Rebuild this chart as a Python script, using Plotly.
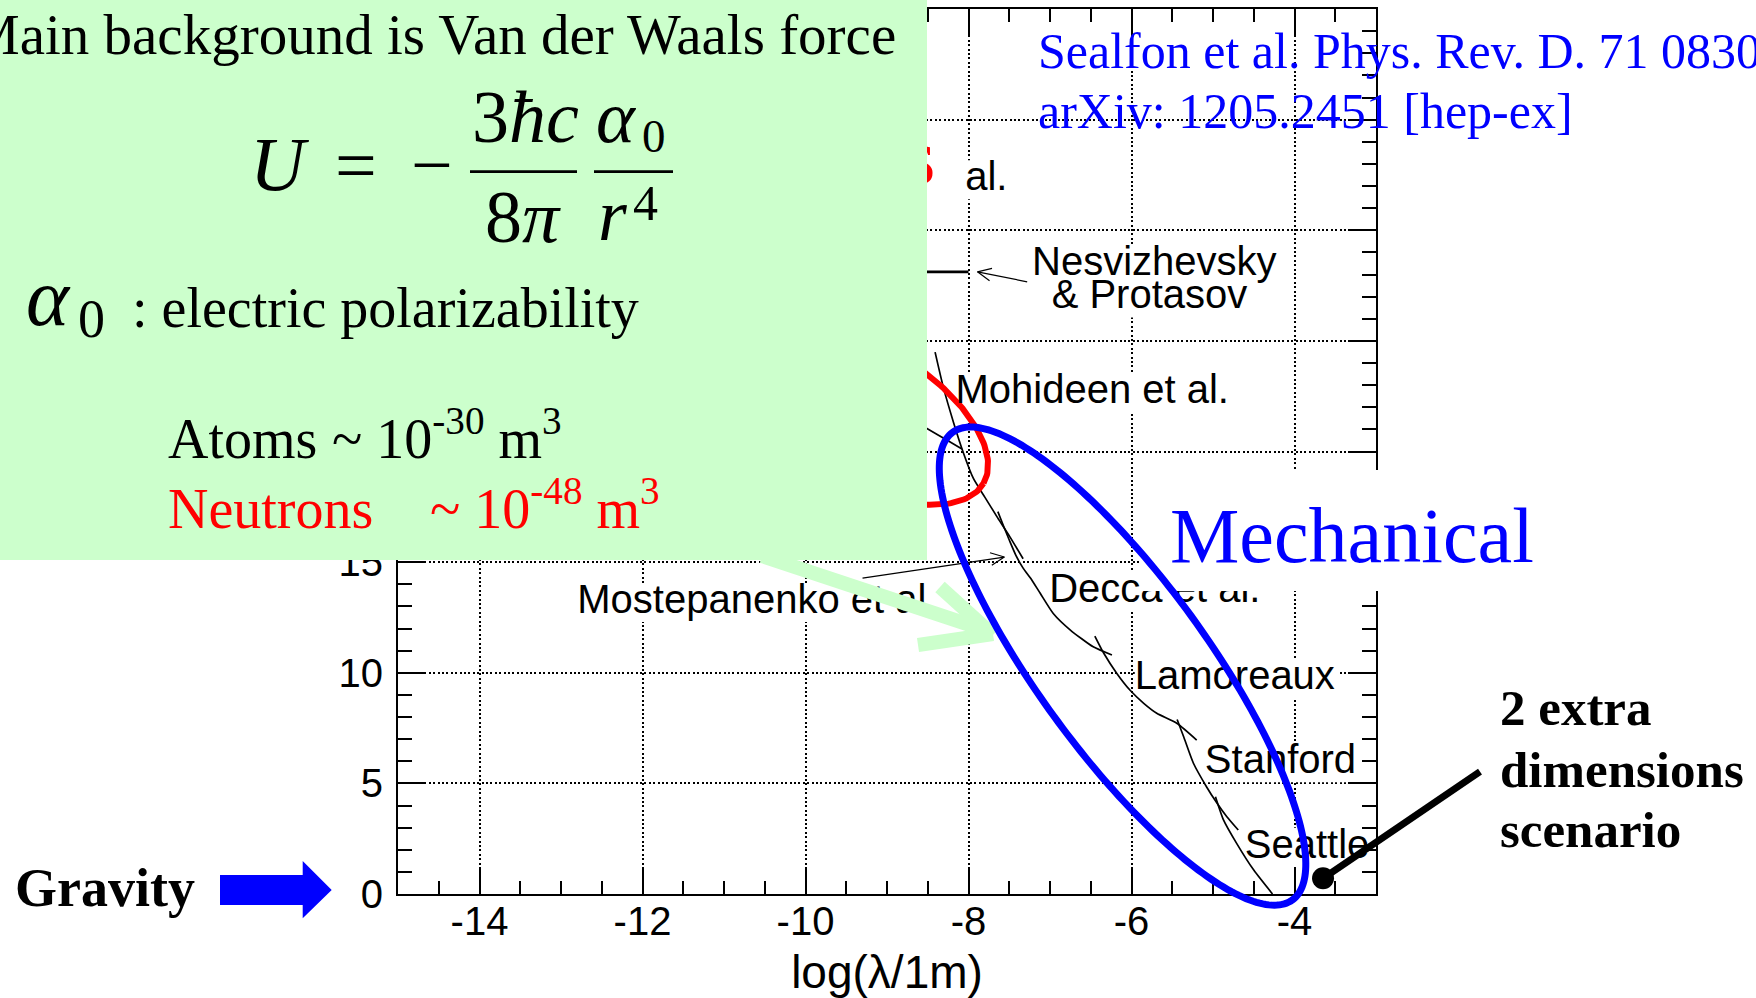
import numpy as np
import plotly.graph_objects as go

# ---------------------------------------------------------------- data
X_RANGE = [-15, -3]
Y_RANGE = [0, 40]
X_TICKS = [-14, -12, -10, -8, -6, -4]
X_TICK_TEXT = ["-14", "-12", "-10", "-8", "-6", "-4"]
Y_TICKS = [0, 5, 10, 15, 20, 25, 30, 35, 40]
Y_TICK_TEXT = ["0", "5", "10", "15", "20", "25", "30", "35", "40"]

# experimental limit curves: log(lambda/1m) vs log(alpha)
mohideen_x = [-8.41, -8.31, -8.18, -8.06, -7.94, -7.80, -7.64, -7.49, -7.33]
mohideen_y = [24.49, 22.92, 21.27, 19.91, 18.78, 17.94, 16.99, 16.13, 15.15]
mostep_x = [-8.84, -8.51, -8.23, -8.08]
mostep_y = [21.74, 21.04, 20.44, 20.11]
decca_x = [-7.64, -7.57, -7.50, -7.42, -7.33, -7.24, -7.12, -6.96, -6.75, -6.47, -6.24]
decca_y = [17.28, 16.63, 16.00, 15.32, 14.73, 14.28, 13.59, 12.68, 11.93, 11.17, 10.80]
lamoreaux_x = [-6.45, -6.34, -6.18, -6.02, -5.85, -5.69, -5.44, -5.20]
lamoreaux_y = [11.66, 10.88, 9.97, 9.22, 8.62, 8.17, 7.71, 6.96]
stanford_x = [-5.44, -5.36, -5.24, -5.08, -4.95, -4.83, -4.69]
stanford_y = [7.89, 7.11, 5.91, 4.85, 4.10, 3.49, 2.89]
seattle_x = [-4.97, -4.87, -4.71, -4.50, -4.27]
seattle_y = [4.40, 3.34, 2.29, 1.08, 0.0]
nesv_x = [-10.5, -8.0]
nesv_y = [28.12, 28.12]

# curve labels (left edge, vertical position)
label_text = ["al.", "Nesvizhevsky", "& Protasov", "Mohideen et al.", "Mostepanenko et al.",
              "Decca et al.", "Lamoreaux", "Stanford", "Seattle"]
label_x = [-8.04, -7.22, -6.98, -8.16, -12.80, -7.01, -5.96, -5.10, -4.61]
label_y = [32.26, 28.42, 26.92, 22.63, 13.15, 13.66, 9.70, 5.91, 2.09]
label_w_px = [52, 250, 198, 275, 362, 214, 203, 152, 127]

# pointer arrows (tail -> tip), data units
nesv_arrow = ((-7.28, 27.67), (-7.89, 28.12))
mostep_arrow = ((-9.30, 14.28), (-7.56, 15.23))

# highlighted regions (centre in data units, semi-axes in px, tilt in degrees)
red_region = dict(center=(-9.41, 21.95), a=150, b=70, tilt=30)
blue_region = dict(center=(-6.11, 10.30), a=289, b=85, tilt=54)

# 2 extra dimensions scenario point
dot_x = [-3.65]
dot_y = [0.71]

# ---------------------------------------------------------------- layout helpers
FIG_W, FIG_H = 1756, 998
M_L, M_R, M_T, M_B = 398, 380, 9, 104
PLOT_W = FIG_W - M_L - M_R
PLOT_H = FIG_H - M_T - M_B
PX_PER_X = PLOT_W / (X_RANGE[1] - X_RANGE[0])
PX_PER_Y = PLOT_H / (Y_RANGE[1] - Y_RANGE[0])
SERIF = "Liberation Serif"
SANS = "Liberation Sans"
GREEN = "#ccffcc"
BLUE = "#0000ff"
RED = "#ff0000"


def paper(px, py):
    return (px - M_L) / PLOT_W, (FIG_H - M_B - py) / PLOT_H


def d2paper(x, y):
    return ((np.asarray(x) - X_RANGE[0]) / (X_RANGE[1] - X_RANGE[0]),
            (np.asarray(y) - Y_RANGE[0]) / (Y_RANGE[1] - Y_RANGE[0]))


def ellipse(reg, n=241):
    t = np.linspace(0, 2 * np.pi, n)
    th = np.radians(-reg["tilt"])
    dx = reg["a"] * np.cos(t) * np.cos(th) - reg["b"] * np.sin(t) * np.sin(th)
    dy = reg["a"] * np.cos(t) * np.sin(th) + reg["b"] * np.sin(t) * np.cos(th)
    return reg["center"][0] + dx / PX_PER_X, reg["center"][1] + dy / PX_PER_Y


def arrow_lines(arrow, head_px=15, half_angle=25):
    (tx, ty), (hx, hy) = arrow
    vx, vy = (tx - hx) * PX_PER_X, (ty - hy) * PX_PER_Y
    L = np.hypot(vx, vy)
    ux, uy = vx / L, vy / L
    ends = []
    for s in (1, -1):
        a = np.radians(s * half_angle)
        rx = ux * np.cos(a) - uy * np.sin(a)
        ry = ux * np.sin(a) + uy * np.cos(a)
        ends.append((hx + rx * head_px / PX_PER_X, hy + ry * head_px / PX_PER_Y))
    xs = [tx, hx, None, ends[0][0], hx, ends[1][0]]
    ys = [ty, hy, None, ends[0][1], hy, ends[1][1]]
    return xs, ys


def text_ann(text, px, baseline, size, color="black", family=SERIF, xanchor="left", anchor="bottom"):
    asc, desc = (0.891, 0.216) if family == SERIF else (0.905, 0.212)
    py = baseline + desc * size if anchor == "bottom" else baseline - asc * size
    x, y = paper(px, py)
    return dict(text=text, x=x, y=y, xref="paper", yref="paper", xanchor=xanchor, yanchor=anchor,
                showarrow=False, borderpad=0, borderwidth=0, align="left",
                font=dict(family=family, size=size, color=color))


def pline(p0, p1, color, width):
    x0, y0 = paper(*p0)
    x1, y1 = paper(*p1)
    return dict(type="line", xref="paper", yref="paper", x0=x0, y0=y0, x1=x1, y1=y1,
                line=dict(color=color, width=width), layer="above")


def prect(p0, p1, color):
    x0, y0 = paper(*p0)
    x1, y1 = paper(*p1)
    return dict(type="rect", xref="paper", yref="paper", x0=x0, y0=y0, x1=x1, y1=y1,
                fillcolor=color, line=dict(width=0), layer="above")


# ---------------------------------------------------------------- traces
fig = go.Figure()
line_style = dict(color="black", width=1.7, shape="spline", smoothing=0.6)
for xs, ys in [(mohideen_x, mohideen_y), (mostep_x, mostep_y), (decca_x, decca_y),
               (lamoreaux_x, lamoreaux_y), (stanford_x, stanford_y), (seattle_x, seattle_y)]:
    fig.add_trace(go.Scatter(x=xs, y=ys, mode="lines", line=line_style,
                             hoverinfo="skip", showlegend=False))
fig.add_trace(go.Scatter(x=nesv_x, y=nesv_y, mode="lines", line=dict(color="black", width=2.8),
                         hoverinfo="skip", showlegend=False))
for arr in (nesv_arrow, mostep_arrow):
    ax_, ay_ = arrow_lines(arr)
    fig.add_trace(go.Scatter(x=ax_, y=ay_, mode="lines", line=dict(color="black", width=1.2),
                             hoverinfo="skip", showlegend=False))

rx, ry = ellipse(red_region)
fig.add_trace(go.Scatter(x=rx, y=ry, mode="lines", line=dict(color=RED, width=6),
                         hoverinfo="skip", showlegend=False))

fig.add_trace(go.Scatter(x=label_x, y=label_y, mode="text", text=label_text,
                         textposition="middle right",
                         textfont=dict(family=SANS, size=40, color="black"),
                         hoverinfo="skip", showlegend=False))
# tail of a red label hidden behind the green panel
fig.add_trace(go.Scatter(x=[-8.593], y=[33.01], mode="text", text=["s"], textposition="middle center",
                         textfont=dict(family=SERIF, size=78, color=RED),
                         hoverinfo="skip", showlegend=False))
fig.add_trace(go.Scatter(x=dot_x, y=dot_y, mode="markers", cliponaxis=False,
                         marker=dict(color="black", size=22),
                         hoverinfo="skip", showlegend=False))

# ---------------------------------------------------------------- shapes
shapes = []
# white backgrounds behind curve labels (between grid and traces)
for lx, ly, w in zip(label_x, label_y, label_w_px):
    shapes.append(dict(type="rect", xref="x", yref="y", x0=lx, x1=lx + w / PX_PER_X,
                       y0=ly - 19 / PX_PER_Y, y1=ly + 20 / PX_PER_Y,
                       fillcolor="white", line=dict(width=0), layer="between"))
# green panel
shapes.append(prect((0, 0), (927, 560), GREEN))
# green arrow
shapes.append(pline((762, 556), (985, 630), GREEN, 14))
shapes.append(pline((940, 587), (993, 635), GREEN, 14))
shapes.append(pline((918, 645), (993, 634), GREEN, 14))
# fraction bars
shapes.append(pline((470, 171.7), (577, 171.7), "black", 2.7))
shapes.append(pline((594, 171.7), (673, 171.7), "black", 2.7))
# white box behind "Mechanical"
shapes.append(prect((1140, 470), (1550, 591), "white"))
# blue ellipse
bx, by = d2paper(*ellipse(blue_region))
path = "M " + " L ".join(f"{a:.5f},{b:.5f}" for a, b in zip(bx, by)) + " Z"
shapes.append(dict(type="path", xref="paper", yref="paper", path=path,
                   line=dict(color=BLUE, width=7), layer="above"))
# pointer of "2 extra dimensions"
dpx = M_L + (dot_x[0] - X_RANGE[0]) * PX_PER_X
dpy = FIG_H - M_B - (dot_y[0] - Y_RANGE[0]) * PX_PER_Y
shapes.append(pline((dpx, dpy), (1480, 771.7), "black", 7))
# gravity arrow
garrow = [(220, 875), (302.7, 875), (302.7, 861), (331.7, 890), (302.7, 918.3), (302.7, 905), (220, 905)]
gp = [paper(*p) for p in garrow]
shapes.append(dict(type="path", xref="paper", yref="paper",
                   path="M " + " L ".join(f"{a:.5f},{b:.5f}" for a, b in gp) + " Z",
                   fillcolor=BLUE, line=dict(width=0), layer="above"))

# ---------------------------------------------------------------- annotations
anns = [
    text_ann("Main background is Van der Waals force", -31, 54, 57),
    text_ann("<i>U</i>", 250, 190, 76),
    text_ann("=", 356, 190, 74, xanchor="center"),
    text_ann("\u2212", 432, 190, 74, xanchor="center"),
    text_ann("3<i>\u0127c</i>", 525, 141.7, 74, xanchor="center"),
    text_ann("8<i>\u03c0</i>", 522.5, 241.7, 74, xanchor="center"),
    text_ann("<i>\u03b1</i>", 596, 141.7, 74),
    text_ann("0", 641.7, 151.7, 47),
    text_ann("<i>r</i>", 598, 240, 74),
    text_ann("4", 633, 220, 50),
    text_ann("<i>\u03b1</i>", 26, 325, 82),
    text_ann("0", 78, 337, 54),
    text_ann(": electric polarizability", 132, 326.7, 56),
    text_ann("Atoms", 168, 458.3, 56),
    text_ann("~ 10<sup>-30</sup> m<sup>3</sup>", 331.7, 458.3, 56),
    text_ann("Neutrons", 168, 528.3, 56, color=RED),
    text_ann("~ 10<sup>-48</sup> m<sup>3</sup>", 430, 528.3, 56, color=RED),
    text_ann("Mechanical", 1170, 561.7, 78, color=BLUE),
    text_ann("Sealfon et al. Phys. Rev. D. 71 0830", 1038, 68.3, 50, color=BLUE),
    text_ann("arXiv: 1205.2451 [hep-ex]", 1038, 128.3, 50, color=BLUE),
    text_ann("<b>Gravity</b>", 15, 906.7, 54),
    text_ann("<b>2 extra</b>", 1500, 725, 51),
    text_ann("<b>dimensions</b>", 1500, 786.7, 51),
    text_ann("<b>scenario</b>", 1500, 846.7, 51),
]

axis_common = dict(showline=True, linecolor="black", linewidth=2, mirror="ticks",
                   ticks="inside", tickcolor="black", tickwidth=2, automargin=False,
                   showgrid=True, gridcolor="black", gridwidth=1.8, griddash="2px,2.4px",
                   zeroline=False, tickfont=dict(family=SANS, size=40, color="black"))

fig.update_layout(
    width=FIG_W, height=FIG_H, autosize=False,
    margin=dict(l=M_L, r=M_R, t=M_T, b=M_B, pad=0),
    paper_bgcolor="white", plot_bgcolor="white",
    showlegend=False,
    xaxis=dict(range=X_RANGE, tickvals=X_TICKS, ticktext=X_TICK_TEXT, ticklen=26,
               ticklabelstandoff=-9,
               minor=dict(dtick=0.5, tick0=-15, ticklen=13, tickwidth=2, tickcolor="black",
                          ticks="inside", showgrid=False),
               title=dict(text="log(\u03bb/1m)", font=dict(family=SANS, size=46, color="black"),
                          standoff=14),
               **axis_common),
    yaxis=dict(range=Y_RANGE, tickvals=Y_TICKS, ticktext=Y_TICK_TEXT, ticklen=28,
               ticklabelstandoff=5,
               minor=dict(dtick=1, tick0=0, ticklen=14, tickwidth=2, tickcolor="black",
                          ticks="inside", showgrid=False),
               **axis_common),
    shapes=shapes,
    annotations=anns,
)

fig.write_html("out.html", config={"displayModeBar": False})
